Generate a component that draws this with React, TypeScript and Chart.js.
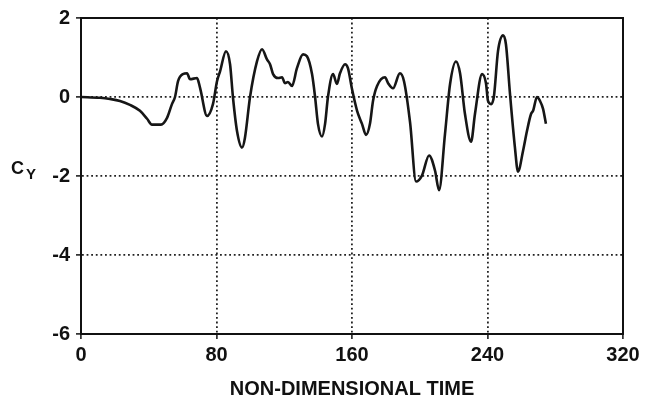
import React, { useEffect, useRef } from "react";
import { Chart, registerables } from "chart.js";

Chart.register(...registerables);

const timeValues: number[] = [
  0, 11.2, 17.1, 23.0, 28.9, 34.8, 39.0, 41.9, 47.2, 50.8, 53.7, 55.5, 57.3, 60.2, 62.6, 64.4, 68.5, 70.3,
  74.4, 77.9, 80.3, 82.1, 85.6, 88.0, 89.7, 92.1, 95.1, 96.8, 99.8, 103.9, 106.9, 109.8, 111.6, 113.4,
  116.3, 118.7, 120.4, 122.2, 124.6, 127.5, 131.1, 133.4, 136.4, 138.2, 139.9, 142.3, 144.1, 145.8,
  148.8, 151.1, 152.9, 155.9, 157.6, 160.0, 163.0, 165.9, 168.3, 170.6, 172.4, 174.8, 179.5, 181.3,
  184.2, 188.3, 190.7, 194.3, 197.8, 201.3, 205.5, 209.0, 211.4, 214.9, 217.9, 221.4, 223.8, 226.7,
  230.3, 232.6, 236.8, 239.1, 240.3, 242.1, 243.8, 246.2, 249.2, 250.9, 253.3, 256.2, 258.0, 261.0,
  263.3, 265.7, 266.9, 269.2, 271.0, 272.8, 274.5,
];

const cyValues: number[] = [
  0, -0.02, -0.05, -0.1, -0.2, -0.35, -0.55, -0.7, -0.7, -0.53, -0.18, 0, 0.4, 0.58, 0.6, 0.45, 0.48, 0.23,
  -0.48, -0.18, 0.4, 0.65, 1.16, 0.83, 0, -0.86, -1.28, -1.03, 0, 0.9, 1.21, 0.95, 0.83, 0.58,
  0.48, 0.5, 0.35, 0.38, 0.28, 0.73, 1.08, 1.03, 0.58, 0, -0.68, -1.0, -0.68, 0,
  0.58, 0.33, 0.6, 0.83, 0.73, 0.2, -0.35, -0.68, -0.96, -0.68, -0.1, 0.28, 0.5, 0.35,
  0.22, 0.6, 0.4, -0.65, -2.14, -1.99, -1.48, -1.86, -2.36, -0.94, 0.33, 0.9, 0.6, -0.43,
  -1.13, -0.43, 0.58, 0.35, -0.1, -0.18, 0.02, 1.16, 1.56, 1.33, 0.07, -1.28, -1.89, -1.36,
  -0.86, -0.43, -0.35, 0.0, -0.1, -0.3, -0.68,
];

const xTicks: number[] = [0, 80, 160, 240, 320];
const yTicks: number[] = [-6, -4, -2, 0, 2];
const xTitle = "NON-DIMENSIONAL TIME";
const yTitleMain = "C";
const yTitleSub = "Y";

const FONT = "'Liberation Sans', Arial, Helvetica, sans-serif";

export default function App() {
  const ref = useRef<HTMLCanvasElement | null>(null);

  useEffect(() => {
    const canvas = ref.current;
    if (!canvas) return;

    const framePlugin = {
      id: "frameAndLabel",
      afterDraw(chart: any) {
        const { ctx, chartArea } = chart;
        ctx.save();
        ctx.strokeStyle = "#111";
        ctx.lineWidth = 2;
        ctx.setLineDash([]);
        ctx.strokeRect(chartArea.left, chartArea.top, chartArea.right - chartArea.left, chartArea.bottom - chartArea.top);
        ctx.fillStyle = "#111";
        ctx.textBaseline = "alphabetic";
        ctx.textAlign = "left";
        ctx.font = `bold 18px ${FONT}`;
        ctx.fillText(yTitleMain, 11, 174);
        ctx.font = `bold 15px ${FONT}`;
        ctx.fillText(yTitleSub, 26, 179);
        ctx.restore();
      },
    };

    const chart = new Chart(canvas, {
      type: "line",
      data: {
        datasets: [
          {
            data: timeValues.map((t, i) => ({ x: t, y: cyValues[i] })),
            borderColor: "#161616",
            borderWidth: 2.6,
            pointRadius: 0,
            fill: false,
            cubicInterpolationMode: "monotone",
          },
        ],
      },
      options: {
        responsive: false,
        animation: false,
        events: [],
        layout: { padding: { top: 17, right: 29, left: 0, bottom: 0 } },
        plugins: { legend: { display: false }, tooltip: { enabled: false } },
        scales: {
          x: {
            type: "linear",
            min: 0,
            max: 320,
            afterBuildTicks: (scale: any) => {
              scale.ticks = xTicks.map((v) => ({ value: v }));
            },
            afterFit: (scale: any) => {
              scale.height = 67;
            },
            ticks: {
              color: "#111",
              font: { family: FONT, size: 20, weight: "bold" },
              padding: 4,
              maxRotation: 0,
              callback: (v: any) => String(v),
            },
            grid: {
              color: "#222",
              lineWidth: 1.8,
              tickLength: 5,
              tickColor: "#111",
              tickWidth: 1.5,
              tickBorderDash: [],
            },
            border: { display: true, color: "#111", width: 2, dash: [1.8, 2.8] },
            title: {
              display: true,
              text: xTitle,
              color: "#111",
              font: { family: FONT, size: 20, weight: "bold" },
              padding: { top: 1, bottom: 0 },
            },
          },
          y: {
            type: "linear",
            min: -6,
            max: 2,
            afterBuildTicks: (scale: any) => {
              scale.ticks = yTicks.map((v) => ({ value: v }));
            },
            afterFit: (scale: any) => {
              scale.width = 81;
            },
            ticks: {
              color: "#111",
              font: { family: FONT, size: 20, weight: "bold" },
              padding: 6,
              callback: (v: any) => String(v),
            },
            grid: {
              color: "#222",
              lineWidth: 1.8,
              tickLength: 5,
              tickColor: "#111",
              tickWidth: 1.5,
              tickBorderDash: [],
            },
            border: { display: true, color: "#111", width: 2, dash: [1.8, 2.8] },
          },
        },
      },
      plugins: [framePlugin],
    } as any);

    return () => chart.destroy();
  }, []);

  return (
    <div style={{ position: "fixed", left: 0, top: 0, width: 652, height: 401, background: "#fff" }}>
      <canvas ref={ref} width={652} height={401} style={{ display: "block" }} />
    </div>
  );
}
